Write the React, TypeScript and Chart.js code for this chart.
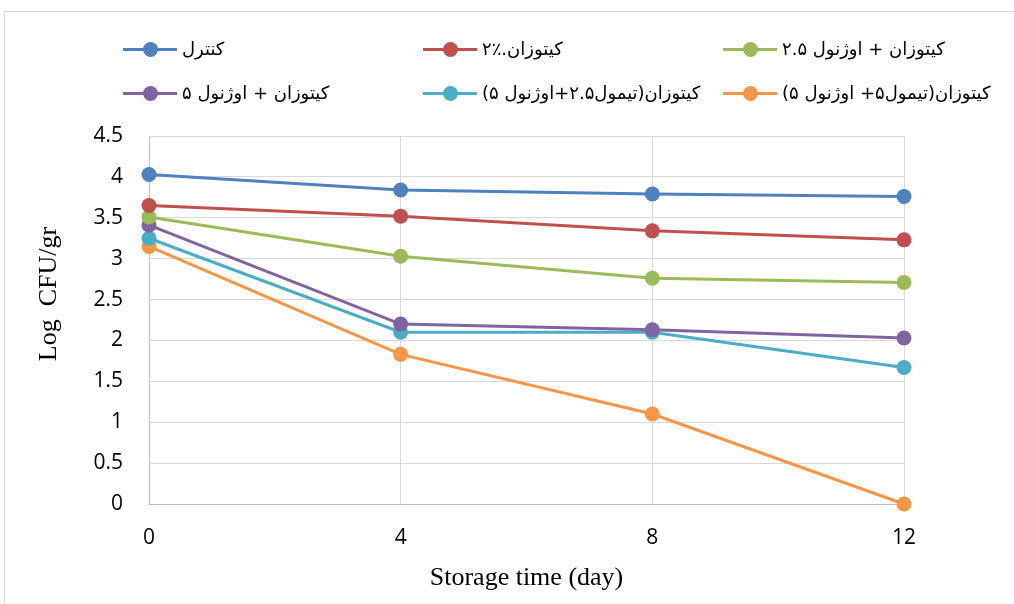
import React, { useEffect, useRef } from "react";
import { Chart, registerables } from "chart.js";

Chart.register(...registerables);

const days = [0, 4, 8, 12];
const xTicks = [0, 4, 8, 12];
const seriesNames = [
  "کنترل",
  "کیتوزان.٪۲",
  "کیتوزان + اوژنول ۲.۵",
  "کیتوزان + اوژنول ۵",
  "کیتوزان(تیمول۲.۵+اوژنول ۵)",
  "کیتوزان(تیمول۵+ اوژنول ۵)",
];
const seriesColors = ["#4f81bd", "#c0504d", "#9bbb59", "#8064a2", "#4bacc6", "#f79646"];
const control = [4.03, 3.84, 3.79, 3.76];
const chitosan2 = [3.65, 3.52, 3.34, 3.23];
const chitEug25 = [3.51, 3.03, 2.76, 2.71];
const chitEug5 = [3.41, 2.2, 2.13, 2.03];
const chitThy25Eug5 = [3.25, 2.1, 2.1, 1.67];
const chitThy5Eug5 = [3.15, 1.83, 1.1, 0.0];
const seriesValues = [control, chitosan2, chitEug25, chitEug5, chitThy25Eug5, chitThy5Eug5];

const legendPos = [
  { left: 123, top: 49 },
  { left: 423, top: 49 },
  { left: 723, top: 49 },
  { left: 123, top: 93 },
  { left: 423, top: 93 },
  { left: 723, top: 93 },
];

export default function App() {
  const ref = useRef<HTMLCanvasElement | null>(null);

  useEffect(() => {
    if (!ref.current) return;
    const chart = new Chart(ref.current, {
      type: "line",
      data: {
        datasets: seriesValues.map((vals, i) => ({
          label: seriesNames[i],
          data: vals.map((v, j) => ({ x: days[j], y: v })),
          borderColor: seriesColors[i],
          backgroundColor: seriesColors[i],
          pointBackgroundColor: seriesColors[i],
          pointBorderWidth: 0,
          pointRadius: 7.5,
          borderWidth: 3,
          tension: 0,
          clip: false as any,
        })),
      },
      options: {
        animation: false,
        responsive: false,
        devicePixelRatio: 1,
        layout: { padding: { left: 0, top: 136, right: 110, bottom: 0 } },
        plugins: { legend: { display: false }, tooltip: { enabled: false } },
        scales: {
          x: {
            type: "linear",
            min: 0,
            max: 12,
            afterBuildTicks: (s: any) => {
              s.ticks = xTicks.map((v) => ({ value: v }));
            },
            afterFit: (s: any) => {
              s.height = 100;
            },
            grid: { color: "#d9d9d9", lineWidth: 1, drawTicks: false },
            border: { color: "#bfbfbf", width: 1 },
            ticks: {
              padding: 21,
              color: "#000",
              font: { family: "'Open Sans'", size: 21 },
            },
            title: {
              display: true,
              text: "Storage time (day)",
              color: "#000",
              font: { family: "'Liberation Serif'", size: 26 },
              padding: { top: 0, bottom: 10 },
            },
          },
          y: {
            min: 0,
            max: 4.5,
            ticks: {
              stepSize: 0.5,
              padding: 26,
              color: "#000",
              font: { family: "'Open Sans'", size: 21 },
              callback: (v: any) => String(Number(v)),
            },
            afterFit: (s: any) => {
              s.width = 149;
            },
            grid: { color: "#d9d9d9", lineWidth: 1, drawTicks: false },
            border: { color: "#bfbfbf", width: 1 },
            title: {
              display: true,
              text: "        Log  CFU/gr",
              color: "#000",
              font: { family: "'Liberation Serif'", size: 26 },
              padding: { top: 34, bottom: 0 },
            },
          },
        },
      },
    });
    return () => chart.destroy();
  }, []);

  return (
    <div style={{ position: "absolute", left: 0, top: 0, width: 1014, height: 604, overflow: "hidden", background: "#fff" }}>
      <div
        style={{
          position: "absolute",
          left: 4,
          top: 11,
          width: 1020,
          height: 610,
          border: "1px solid #d9d9d9",
          boxSizing: "border-box",
        }}
      />
      <canvas ref={ref} width={1014} height={604} style={{ position: "absolute", left: 0, top: 0 }} />
      {seriesNames.map((name, i) => (
        <div
          key={i}
          style={{
            position: "absolute",
            left: legendPos[i].left,
            top: legendPos[i].top,
            transform: "translateY(-50%)",
            display: "flex",
            alignItems: "center",
            whiteSpace: "nowrap",
          }}
        >
          <div style={{ position: "relative", width: 54, height: 16 }}>
            <div style={{ position: "absolute", left: 0, top: 6.5, width: 54, height: 3, background: seriesColors[i] }} />
            <div
              style={{
                position: "absolute",
                left: 19.5,
                top: 0.5,
                width: 15,
                height: 15,
                borderRadius: "50%",
                background: seriesColors[i],
              }}
            />
          </div>
          <span dir="rtl" style={{ marginLeft: 5, fontFamily: "'DejaVu Sans'", fontSize: 18, color: "#000", lineHeight: "24px" }}>
            {name}
          </span>
        </div>
      ))}
    </div>
  );
}
